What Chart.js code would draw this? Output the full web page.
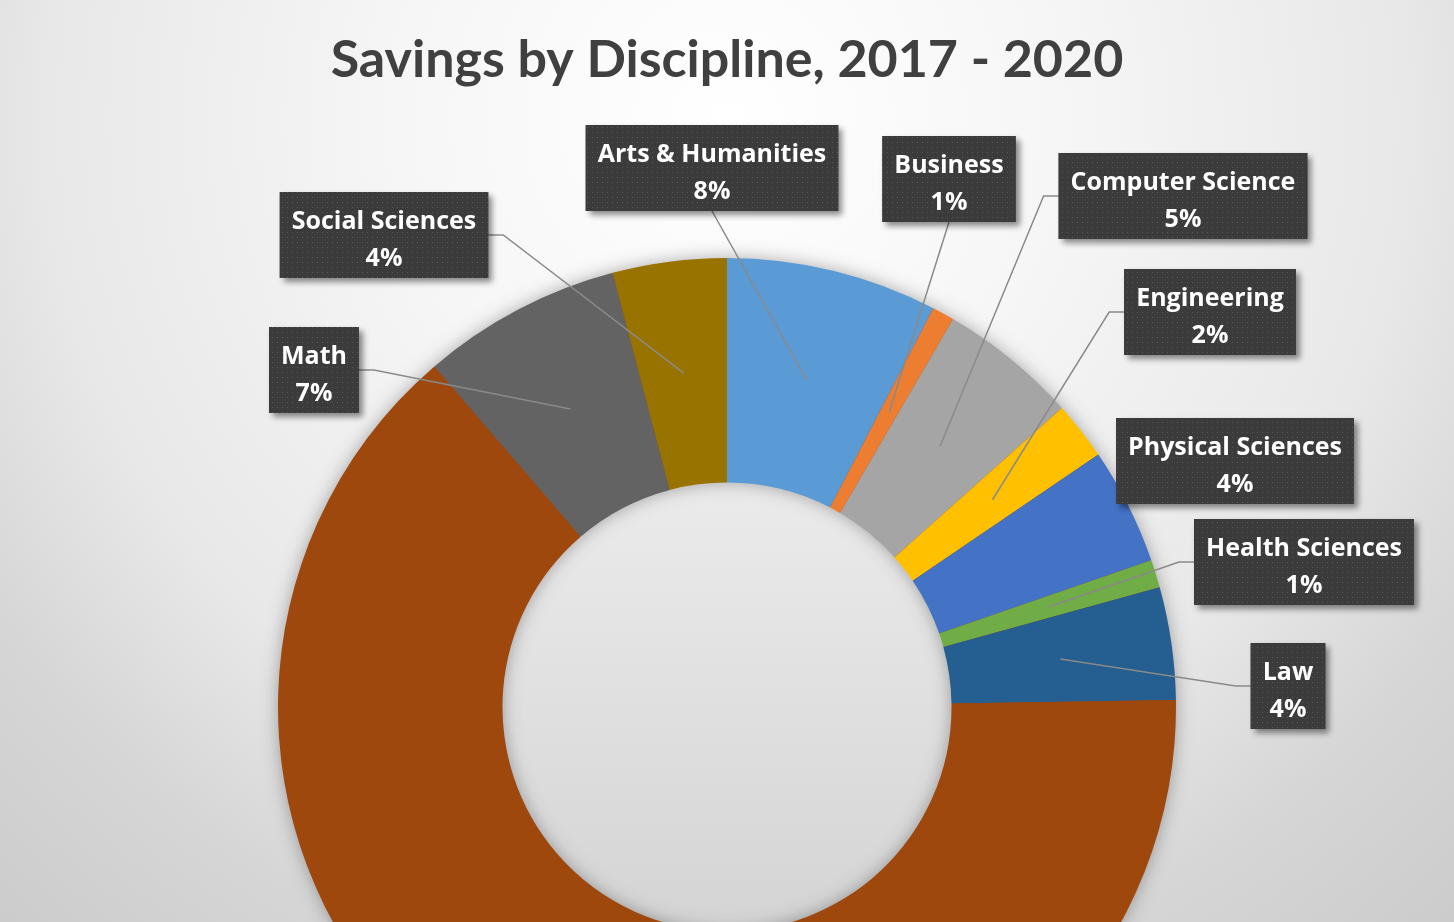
<!DOCTYPE html>
<html>
<head>
<meta charset="utf-8">
<title>Savings by Discipline, 2017 - 2020</title>
<script src="https://cdn.jsdelivr.net/npm/chart.js@4.4.1/dist/chart.umd.min.js"></script>
<style>
    html, body {
        margin: 0;
        padding: 0;
        width: 1454px;
        height: 922px;
        overflow: hidden;
    }
    body {
        background: radial-gradient(circle 1100px at 727px 120px,
            #ffffff 0%, #f6f6f6 30%, #e8e8e8 62%, #d6d6d6 80%, #cbcbcb 100%);
    }
    #wrap {
        position: absolute;
        left: 0;
        top: 0;
        width: 1454px;
        height: 1156px;
    }
</style>
</head>
<body>
<div id="wrap"><canvas id="donutChart"></canvas></div>
<script>
// ===========================
// DATA (share of savings, %)
// ===========================
const disciplines = [
    "Arts & Humanities", "Business", "Computer Science", "Engineering",
    "Physical Sciences", "Health Sciences", "Law", "Other", "Math", "Social Sciences"
];
const savingsShare = [7.6, 0.8, 5.0, 2.1, 4.2, 1.0, 4.05, 63.95, 7.2, 4.1];

const sliceColors = [
    "#5B9BD5", "#ED7D31", "#A5A5A5", "#FFC000", "#4472C4",
    "#70AD47", "#255E91", "#9E480E", "#636363", "#997300"
];

// callout box centre, as offset from the doughnut centre (null = no label)
const calloutAt = [
    [-15, -539], [222, -528], [456, -511], [483, -395], [508, -246],
    [577, -145], [561, -21], null, [-413, -337], [-343, -472]
];

// ===========================
// RING SHADOW + HOLE SHADING
// ===========================
const ringShadow = {
    id: "ringShadow",
    beforeDatasetsDraw(chart) {
        const arc = chart.getDatasetMeta(0).data[0];
        if (!arc) return;
        const { x, y, innerRadius, outerRadius } =
            arc.getProps(["x", "y", "innerRadius", "outerRadius"], true);
        const ctx = chart.ctx;
        ctx.save();

        const g = ctx.createLinearGradient(0, y - innerRadius, 0, y + innerRadius);
        g.addColorStop(0, "#ebebeb");
        g.addColorStop(1, "#d4d4d4");
        ctx.fillStyle = g;
        ctx.beginPath();
        ctx.arc(x, y, innerRadius, 0, Math.PI * 2);
        ctx.fill();

        ctx.shadowColor = "rgba(0,0,0,0.35)";
        ctx.shadowBlur = 18;
        ctx.fillStyle = sliceColors[7];
        ctx.beginPath();
        ctx.arc(x, y, outerRadius - 1, 0, Math.PI * 2);
        ctx.arc(x, y, innerRadius + 1, 0, Math.PI * 2, true);
        ctx.fill();
        ctx.restore();
    }
};

// ===========================
// CALLOUT LABELS
// ===========================
function dotPattern(ctx) {
    const tile = document.createElement("canvas");
    tile.width = 5;
    tile.height = 5;
    const t = tile.getContext("2d");
    t.fillStyle = "#3b3b3b";
    t.fillRect(0, 0, 5, 5);
    t.fillStyle = "#575757";
    t.fillRect(2, 2, 1, 1);
    return ctx.createPattern(tile, "repeat");
}

const callouts = {
    id: "callouts",
    afterDatasetsDraw(chart) {
        const ctx = chart.ctx;
        const meta = chart.getDatasetMeta(0);
        const total = savingsShare.reduce((a, b) => a + b, 0);
        const cx = meta.data[0].x;
        const cy = meta.data[0].y;

        ctx.save();
        ctx.font = "700 25px 'Open Sans'";

        const boxes = [];
        meta.data.forEach((arc, i) => {
            if (!calloutAt[i]) return;
            const lines = [disciplines[i], Math.round(savingsShare[i] * 100 / total) + "%"];
            const w = Math.max(...lines.map(t => ctx.measureText(t).width)) + 24;
            const h = 86;
            const bx = cx + calloutAt[i][0];
            const by = cy + calloutAt[i][1];
            boxes.push({
                lines, bx, by,
                x0: bx - w / 2, x1: bx + w / 2, y0: by - h / 2, y1: by + h / 2,
                anchor: arc.getCenterPoint()
            });
        });

        // leader lines
        ctx.strokeStyle = "#8a8a8a";
        ctx.lineWidth = 1.5;
        boxes.forEach(b => {
            const ax = b.anchor.x, ay = b.anchor.y;
            const dx = Math.max(b.x0 - ax, 0, ax - b.x1);
            const dy = Math.max(b.y0 - ay, 0, ay - b.y1);
            if (Math.hypot(dx, dy) < 120) return;
            ctx.beginPath();
            if (ax < b.x0 - 20) {
                ctx.moveTo(b.x0, b.by);
                ctx.lineTo(b.x0 - 15, b.by);
            } else if (ax > b.x1 + 20) {
                ctx.moveTo(b.x1, b.by);
                ctx.lineTo(b.x1 + 15, b.by);
            } else {
                ctx.moveTo(b.bx, ay > b.y1 ? b.y1 : b.y0);
            }
            ctx.lineTo(ax, ay);
            ctx.stroke();
        });

        // boxes
        const pattern = dotPattern(ctx);
        boxes.forEach(b => {
            ctx.save();
            ctx.shadowColor = "rgba(0,0,0,0.45)";
            ctx.shadowBlur = 6;
            ctx.shadowOffsetX = 4;
            ctx.shadowOffsetY = 4;
            ctx.fillStyle = "#3b3b3b";
            ctx.fillRect(b.x0, b.y0, b.x1 - b.x0, b.y1 - b.y0);
            ctx.restore();
            ctx.fillStyle = pattern;
            ctx.fillRect(b.x0, b.y0, b.x1 - b.x0, b.y1 - b.y0);

            ctx.fillStyle = "#ffffff";
            ctx.textAlign = "center";
            ctx.textBaseline = "alphabetic";
            ctx.fillText(b.lines[0], b.bx, b.by - 6);
            ctx.fillText(b.lines[1], b.bx, b.by + 31);
        });
        ctx.restore();
    }
};

// ===========================
// CHART
// ===========================
new Chart(document.getElementById("donutChart"), {
    type: "doughnut",
    data: {
        labels: disciplines,
        datasets: [{
            data: savingsShare,
            backgroundColor: sliceColors,
            borderWidth: 0
        }]
    },
    options: {
        responsive: true,
        maintainAspectRatio: false,
        animation: false,
        cutout: "50%",
        layout: { padding: 0 },
        plugins: {
            legend: { display: false },
            tooltip: { enabled: false },
            title: {
                display: true,
                text: "Savings by Discipline, 2017 - 2020",
                color: "#404040",
                font: { family: "Lato", size: 52, weight: "bold", lineHeight: 1.2 },
                padding: { top: 29, bottom: 166.6 }
            }
        }
    },
    plugins: [ringShadow, callouts]
});
</script>
</body>
</html>
